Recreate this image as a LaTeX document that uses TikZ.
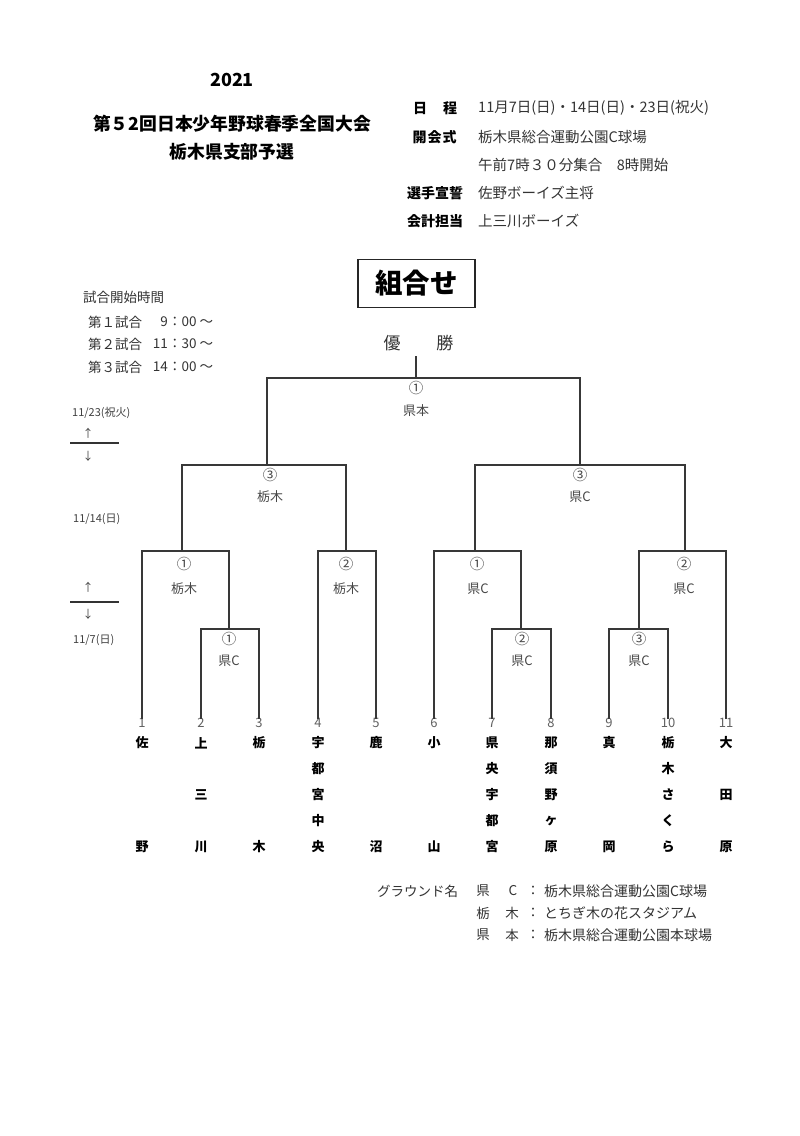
\documentclass[tikz,border=0pt]{standalone}
\usepackage{fontspec}
\setmainfont{Noto Sans CJK JP}
\newcommand{\fsz}[1]{\fontsize{#1}{#1}\selectfont}
\newcommand{\spread}[2]{\makebox[#1][s]{#2}}
\begin{document}
\begin{tikzpicture}[x=1pt,y=-1pt,
  br/.style={draw=black!78, line width=1.4pt},
  lab/.style={font=\fsz{13}, text=black!72, inner sep=0pt},
  circ/.style={font=\fsz{14.5}, text=black!72, inner sep=0pt},
  num/.style={font=\fsz{13}, text=black!62, inner sep=0pt},
  nm/.style={font=\bfseries\fsz{13}, inner sep=0pt},
  hd/.style={font=\bfseries\fsz{14}, inner sep=0pt, anchor=west},
  val/.style={font=\fsz{14.5}, text=black!80, inner sep=0pt, anchor=west},
  side/.style={font=\fsz{11}, text=black!75, inner sep=0pt},
  txt/.style={font=\fsz{13.5}, text=black!80, inner sep=0pt},
  gtx/.style={font=\fsz{13.5}, text=black!80, inner sep=0pt}]
\useasboundingbox[fill=white] (0,0) rectangle (800,1136);

% ---- title block
\node[font=\bfseries\fsz{18}] (yr) at (232,80) {2021};
\node[font=\bfseries\fsz{17.8}] (t1) at (232,124) {第５2回日本少年野球春季全国大会};
\node[font=\bfseries\fsz{17.8}] (t2) at (232,152) {栃木県支部予選};

% ---- schedule block
\node[hd] (h1) at (413,108) {\spread{44pt}{日\hfill 程}};
\node[hd] (h2) at (412.5,137) {\spread{44pt}{開\hfill 会\hfill 式}};
\node[hd] (h3) at (407,193) {\spread{55pt}{選\hfill 手\hfill 宣\hfill 誓}};
\node[hd] (h4) at (407,221) {\spread{55pt}{会\hfill 計\hfill 担\hfill 当}};
\node[val] (v1) at (478,108) {11月7日(日)・14日(日)・23日(祝火)};
\node[val] (v2) at (478,137) {栃木県総合運動公園C球場};
\node[val] (v3) at (478,165) {午前7時３０分集合　8時開始};
\node[val] (v4) at (478,193) {佐野ボーイズ主将};
\node[val] (v5) at (478,221) {上三川ボーイズ};

% ---- box title
\node[draw=black!85, line width=1.2pt, minimum width=117pt, minimum height=48pt,
      font=\bfseries\fsz{27.5}, inner sep=0pt] (kumi) at (416.5,283.5) {組合せ};

% ---- start times
\node[txt,anchor=west] (st) at (83,297) {試合開始時間};
\node[txt,anchor=west] (g1) at (88,322) {第１試合};
\node[txt,anchor=west] (g2) at (88,344) {第２試合};
\node[txt,anchor=west] (g3) at (88,367) {第３試合};
\node[txt,anchor=east] (g1h) at (168,322) {9};
\node[txt,anchor=east] (g2h) at (168,344) {11};
\node[txt,anchor=east] (g3h) at (168,367) {14};
\node[txt,anchor=west] (g1m) at (168,322) {：00 ～};
\node[txt,anchor=west] (g2m) at (168,344) {：30 ～};
\node[txt,anchor=west] (g3m) at (168,367) {：00 ～};

% ---- day markers
\node[side,anchor=west] (d3) at (72,413) {11/23(祝火)};
\node[side] (u1) at (88,433) {↑};
\node[side] (w1) at (88,456) {↓};
\draw[line width=1.2pt, black!80] (70,443) -- (119,443);
\node[side,anchor=west] (d2) at (73,519) {11/14(日)};
\node[side] (u2) at (88,587) {↑};
\node[side] (w2) at (88,614) {↓};
\draw[line width=1.2pt, black!80] (70,602) -- (119,602);
\node[side,anchor=west] (d1) at (73,640) {11/7(日)};

% ---- champion
\node[font=\fsz{17}, text=black!80, inner sep=0pt] (champ) at (418.5,343) {優\hspace{36pt}勝};

% ---- leaf numbers
\foreach \i/\x in {1/142,2/201,3/259,4/318,5/376,6/434,7/492,8/551,9/609,10/668,11/726}
  \node[num] (L\i) at (\x,723) {\i};

% ---- bracket lines
\draw[br] (416,356) -- (416,378);
\draw[br] (267,465) -- (267,378) -- (580,378) -- (580,465);
\draw[br] (182,551) -- (182,465) -- (346,465) -- (346,551);
\draw[br] (475,551) -- (475,465) -- (685,465) -- (685,551);
\draw[br] ([yshift=-1pt]L1.north) -- (142,551) -- (229,551) -- (229,629);
\draw[br] ([yshift=-1pt]L2.north) -- (201,629) -- (259,629) -- ([yshift=-1pt]L3.north);
\draw[br] ([yshift=-1pt]L4.north) -- (318,551) -- (376,551) -- ([yshift=-1pt]L5.north);
\draw[br] ([yshift=-1pt]L6.north) -- (434,551) -- (521,551) -- (521,629);
\draw[br] ([yshift=-1pt]L7.north) -- (492,629) -- (551,629) -- ([yshift=-1pt]L8.north);
\draw[br] ([yshift=-1pt]L11.north) -- (726,551) -- (639,551) -- (639,629);
\draw[br] ([yshift=-1pt]L9.north) -- (609,629) -- (668,629) -- ([yshift=-1pt]L10.north);

% ---- match labels
\node[circ] (m1a) at (416,388) {①}; \node[lab] (m1b) at (416,411) {県本};
\node[circ] (m2a) at (270,475) {③}; \node[lab] (m2b) at (270,497) {栃木};
\node[circ] (m3a) at (580,475) {③}; \node[lab] (m3b) at (580,497) {県C};
\node[circ] (m4a) at (184,564) {①}; \node[lab] (m4b) at (184,589) {栃木};
\node[circ] (m5a) at (229,639) {①}; \node[lab] (m5b) at (229,661) {県C};
\node[circ] (m6a) at (346,564) {②}; \node[lab] (m6b) at (346,589) {栃木};
\node[circ] (m7a) at (477,564) {①}; \node[lab] (m7b) at (478,589) {県C};
\node[circ] (m8a) at (522,639) {②}; \node[lab] (m8b) at (522,661) {県C};
\node[circ] (m9a) at (684,564) {②}; \node[lab] (m9b) at (684,589) {県C};
\node[circ] (m10a) at (639,639) {③}; \node[lab] (m10b) at (639,661) {県C};

% ---- team names (5 rows)
\foreach \x/\a/\b/\c/\d/\e [count=\k] in {
   142/佐/{}/{}/{}/野, 201/上/{}/三/{}/川, 259/栃/{}/{}/{}/木,
   318/宇/都/宮/中/央, 376/鹿/{}/{}/{}/沼, 434/小/{}/{}/{}/山,
   492/県/央/宇/都/宮, 551/那/須/野/ヶ/原, 609/真/{}/{}/{}/岡,
   668/栃/木/さ/く/ら, 726/大/{}/田/{}/原} {
  \node[nm] (n\k a) at (\x,743) {\a};
  \node[nm] (n\k b) at (\x,769) {\b};
  \node[nm] (n\k c) at (\x,795) {\c};
  \node[nm] (n\k d) at (\x,821) {\d};
  \node[nm] (n\k e) at (\x,847) {\e};
}

% ---- ground names
\node[gtx,anchor=west] (gr) at (377,891) {グラウンド名};
\node[gtx] (gk1) at (483,891) {県}; \node[gtx] (gk2) at (513,891) {C};
\node[gtx] (gt1) at (483,913) {栃}; \node[gtx] (gt2) at (512,913) {木};
\node[gtx] (gh1) at (483,935) {県}; \node[gtx] (gh2) at (512,935) {本};
\node[gtx] (c1) at (533,891) {：}; \node[gtx] (c2) at (533,913) {：}; \node[gtx] (c3) at (533,935) {：};
\node[gtx,font=\fsz{14},anchor=west] (gv1) at (544,891) {栃木県総合運動公園C球場};
\node[gtx,font=\fsz{14},anchor=west] (gv2) at (544,913) {とちぎ木の花スタジアム};
\node[gtx,font=\fsz{14},anchor=west] (gv3) at (544,935) {栃木県総合運動公園本球場};
\end{tikzpicture}
\end{document}
